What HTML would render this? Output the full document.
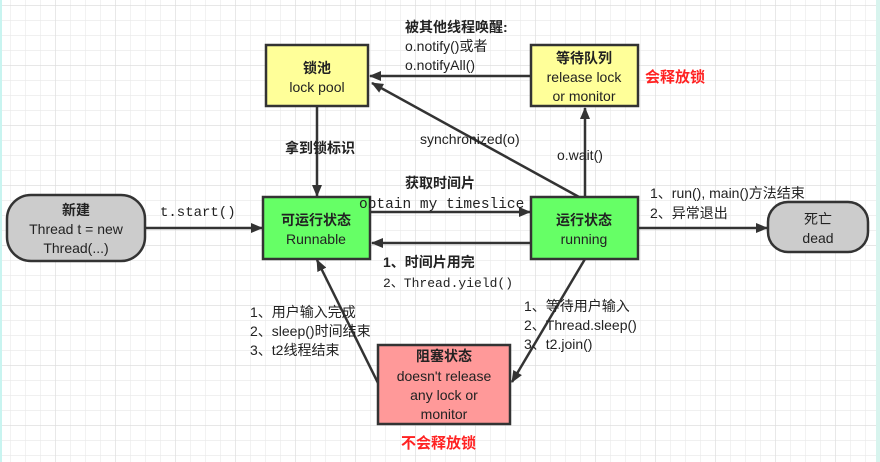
<!DOCTYPE html>
<html><head><meta charset="utf-8"><style>
html,body{margin:0;padding:0}
body{width:880px;height:462px;overflow:hidden;background:#fff;position:relative;
font-family:"Liberation Sans","Noto Sans CJK SC",sans-serif;}
svg{position:absolute;left:0;top:0}
</style></head><body>
<svg width="880" height="462" xmlns="http://www.w3.org/2000/svg">
<defs>
<pattern id="g" x="10" y="5" width="15" height="15" patternUnits="userSpaceOnUse">
<path d="M0 0V15M0 0H15" stroke="#e8e8e8" stroke-width="1.2" fill="none"/>
</pattern>
<pattern id="g2" x="-5" y="5" width="60" height="60" patternUnits="userSpaceOnUse">
<path d="M0 0V60M0 0H60" stroke="#dcdcdc" stroke-width="1.2" fill="none"/>
</pattern>
<marker id="a" markerWidth="12" markerHeight="10" refX="11" refY="5" orient="auto" markerUnits="userSpaceOnUse">
<path d="M0 0L12 5L0 10Z" fill="#333"/>
</marker>
</defs>
<rect width="880" height="462" fill="url(#g)"/>
<rect width="880" height="462" fill="url(#g2)"/>
<rect x="0" y="0" width="2" height="462" fill="#c8f4f0"/>
<rect x="876" y="0" width="4" height="462" fill="#d8f4ee"/>

<g stroke="#333" stroke-width="2.5" fill="none" marker-end="url(#a)">
<line x1="531" y1="76" x2="370" y2="76"/>
<line x1="579" y1="197" x2="372" y2="83"/>
<line x1="585" y1="197" x2="585" y2="108"/>
<line x1="317" y1="106" x2="317" y2="196"/>
<line x1="145" y1="228" x2="262" y2="228"/>
<line x1="370" y1="212" x2="530" y2="212"/>
<line x1="531" y1="243" x2="372" y2="243"/>
<line x1="638" y1="228" x2="767" y2="228"/>
<line x1="585" y1="259" x2="512" y2="382"/>
<line x1="378" y1="383" x2="317" y2="260"/>
</g>

<g stroke="#333" stroke-width="2.5">
<rect x="266" y="45" width="102" height="61" fill="#ffff99"/>
<rect x="531" y="45" width="107" height="61" fill="#ffff99"/>
<rect x="7" y="195" width="138" height="66" rx="24" fill="#cccccc"/>
<rect x="263" y="197" width="107" height="62" fill="#66ff66"/>
<rect x="531" y="197" width="107" height="62" fill="#66ff66"/>
<rect x="768" y="202" width="100" height="50" rx="20" fill="#cccccc"/>
<rect x="378" y="345" width="132" height="79" fill="#ff9999"/>
</g>

<g font-size="14" fill="#222" text-anchor="middle">
<text x="317" y="73" font-weight="bold">锁池</text>
<text x="317" y="92">lock pool</text>
<text x="584" y="63" font-weight="bold">等待队列</text>
<text x="584" y="82">release lock</text>
<text x="584" y="101">or monitor</text>
<text x="76" y="215" font-weight="bold">新建</text>
<text x="76" y="234">Thread t = new</text>
<text x="76" y="253">Thread(...)</text>
<text x="316" y="225" font-weight="bold">可运行状态</text>
<text x="316" y="244">Runnable</text>
<text x="584" y="225" font-weight="bold">运行状态</text>
<text x="584" y="244">running</text>
<text x="818" y="224">死亡</text>
<text x="818" y="243">dead</text>
<text x="444" y="361" font-weight="bold">阻塞状态</text>
<text x="444" y="381">doesn't release</text>
<text x="444" y="400">any lock or</text>
<text x="444" y="419">monitor</text>
</g>

<g font-size="14" fill="#222">
<text x="405" y="32" font-weight="bold">被其他线程唤醒:</text>
<text x="405" y="51">o.notify()或者</text>
<text x="405" y="70">o.notifyAll()</text>
<text x="420" y="144">synchronized(o)</text>
<text x="557" y="160">o.wait()</text>
<text x="285" y="153" font-weight="bold">拿到锁标识</text>
<text x="405" y="188" font-weight="bold">获取时间片</text>
<text x="650" y="198">1、run(), main()方法结束</text>
<text x="650" y="218">2、异常退出</text>
<text x="383" y="267" font-weight="bold">1、时间片用完</text>
<text x="250" y="317">1、用户输入完成</text>
<text x="250" y="336">2、sleep()时间结束</text>
<text x="250" y="355">3、t2线程结束</text>
<text x="524" y="311">1、等待用户输入</text>
<text x="524" y="330">2、Thread.sleep()</text>
<text x="524" y="349">3、t2.join()</text>
</g>
<g font-family="Liberation Mono, monospace" font-size="14" fill="#222">
<text x="160" y="216">t.start()</text>
<text x="359" y="208" font-size="14.5">obtain my timeslice</text>
<text x="383" y="287" font-size="13">2、Thread.yield()</text>
</g>
<g font-size="15" fill="#ff2222" font-weight="bold">
<text x="645" y="82">会释放锁</text>
<text x="401" y="448">不会释放锁</text>
</g>
</svg>
</body></html>
